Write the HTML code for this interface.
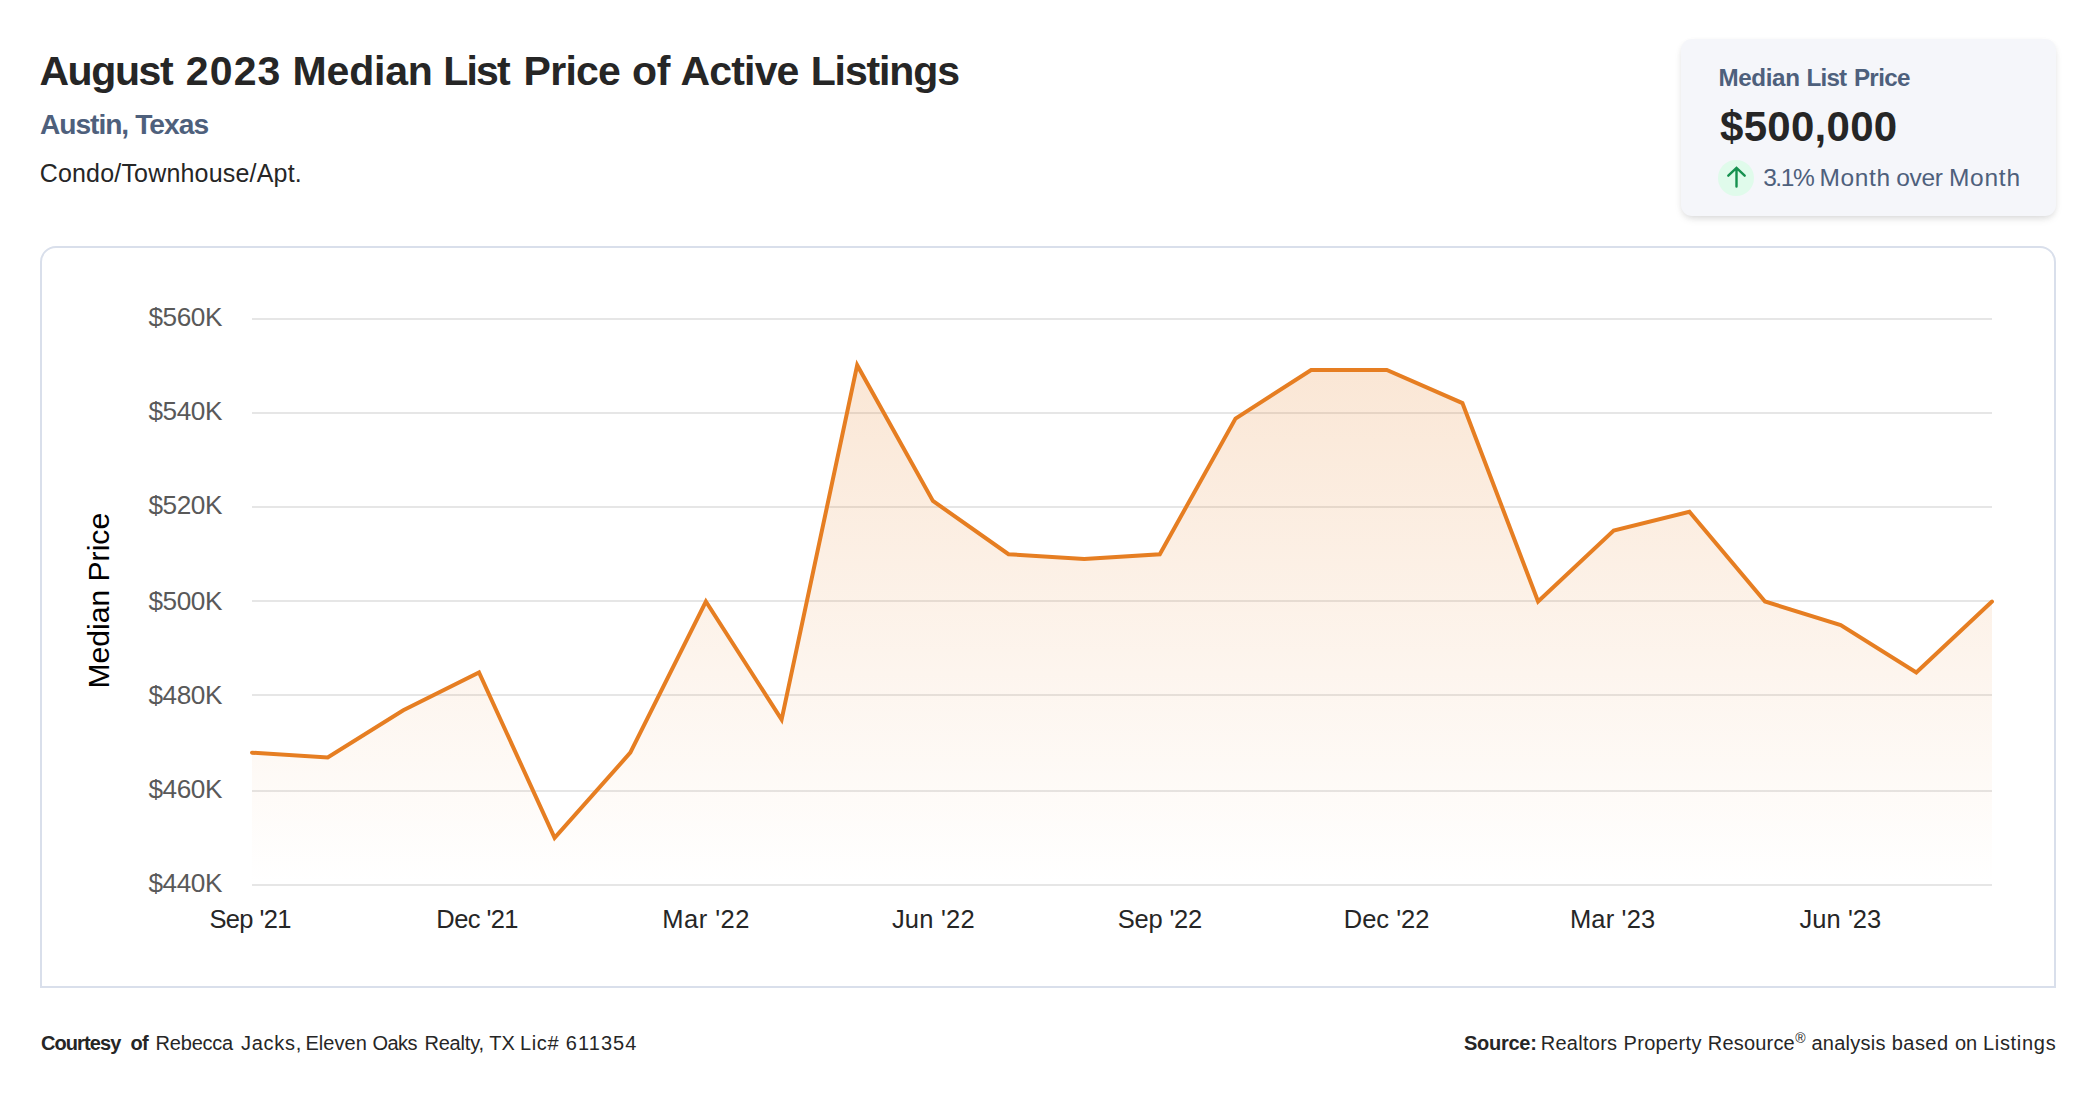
<!DOCTYPE html>
<html lang="en"><head><meta charset="utf-8"><title>August 2023 Median List Price of Active Listings</title>
<style>
*{margin:0;padding:0;box-sizing:border-box}
html,body{width:2096px;height:1100px;background:#fff;overflow:hidden}
body{position:relative;font-family:"Liberation Sans",sans-serif;color:#262626}
.ln{position:absolute;left:0;width:2096px;height:1em;line-height:1;white-space:nowrap}
.ln span,.ln sup{position:absolute;top:0;line-height:1;white-space:nowrap}
h1{color:#262626}
.sub,.cl,.cm{color:#4e607c}
.card{position:absolute;left:1681px;top:39px;width:375px;height:177px;background:#f5f6fa;border-radius:11px;box-shadow:0 4px 8px -2px rgba(0,0,0,.13), 0 2px 6px -1px rgba(0,0,0,.06)}
.dot{position:absolute;left:37px;top:121px;width:36px;height:36px;border-radius:50%;background:#e0fbeb}
.dot svg{position:absolute;left:0;top:0}
.chart{position:absolute;left:40px;top:246px;width:2016px;height:742px;border:2px solid #d9dfeb;border-radius:16px 16px 0 0;background:#fff}
svg.plot{position:absolute;left:-42px;top:-248px}
.yl{font-size:26.2px;fill:#595959}
.xl{font-size:25.5px;fill:#262626}
.yt{font-size:30.1px;fill:#000}
</style></head>
<body>
<header>
<h1 class="ln" style="left:0;top:50.59px;font-size:41px;font-weight:700"><span style="left:39.4px;letter-spacing:-1.389px">August</span> <span style="left:185.8px;letter-spacing:1.131px">2023</span> <span style="left:292.6px;letter-spacing:-0.199px">Median</span> <span style="left:443.2px;letter-spacing:-1.813px">List</span> <span style="left:523.6px;letter-spacing:-0.749px">Price</span> <span style="left:631.9px;letter-spacing:-0.244px">of</span> <span style="left:680.5px;letter-spacing:-0.832px">Active</span> <span style="left:810.7px;letter-spacing:-1.124px">Listings</span></h1>
<div class="ln sub" style="left:0;top:110.13px;font-size:28.2px;font-weight:700"><span style="left:40px;letter-spacing:-1.064px">Austin,</span> <span style="left:135.2px;letter-spacing:-0.939px">Texas</span></div>
<div class="ln typ" style="left:0;top:161.04px;font-size:25px;font-weight:400"><span style="left:39.7px;letter-spacing:0.186px">Condo/Townhouse/Apt.</span></div>
</header>
<section class="card">
<div class="ln cl" style="left:0;top:26.51px;font-size:24.2px;font-weight:700"><span style="left:37.4px;letter-spacing:-0.349px">Median</span> <span style="left:125.6px;letter-spacing:-0.849px">List</span> <span style="left:172.9px;letter-spacing:-0.654px">Price</span></div>
<div class="ln cv" style="left:0;top:67.45px;font-size:42px;font-weight:700"><span style="left:39px;letter-spacing:0.283px">$500,000</span></div>
<div class="dot"><svg width="36" height="36" viewBox="0 0 36 36"><path d="M18.5 26.6V8.6M10.3 15.7L18.5 8l8.2 7.7" fill="none" stroke="#16914f" stroke-width="2.4" stroke-linecap="round" stroke-linejoin="miter"/></svg></div>
<div class="ln cm" style="left:0;top:126.66px;font-size:24.5px;font-weight:400"><span style="left:82.2px;letter-spacing:-1.453px">3.1%</span> <span style="left:138.5px;letter-spacing:0.633px">Month</span> <span style="left:215.3px;letter-spacing:-0.367px">over</span> <span style="left:267.9px;letter-spacing:0.758px">Month</span></div>
</section>
<main class="chart">
<svg class="plot" width="2096" height="1100" viewBox="0 0 2096 1100" font-family="Liberation Sans, sans-serif">
<defs><linearGradient id="g" gradientUnits="userSpaceOnUse" x1="0" y1="365" x2="0" y2="885"><stop offset="0" stop-color="#e67e22" stop-opacity="0.19"/><stop offset="1" stop-color="#e67e22" stop-opacity="0.0"/></linearGradient></defs>
<rect x="252" y="318" width="1740" height="2" fill="#e6e6e6"/><rect x="252" y="412" width="1740" height="2" fill="#e6e6e6"/><rect x="252" y="506" width="1740" height="2" fill="#e6e6e6"/><rect x="252" y="600" width="1740" height="2" fill="#e6e6e6"/><rect x="252" y="694" width="1740" height="2" fill="#e6e6e6"/><rect x="252" y="790" width="1740" height="2" fill="#e6e6e6"/><rect x="252" y="884" width="1740" height="2" fill="#e6e6e6"/>
<path d="M252.0,885 L252.0,752.7 L327.7,757.4 L403.3,710.2 L479.0,672.4 L554.6,837.8 L630.3,752.7 L705.9,601.5 L781.6,719.6 L857.2,365.2 L932.9,500.9 L1008.5,554.2 L1084.2,559.0 L1159.8,554.2 L1235.5,418.6 L1311.1,370.0 L1386.8,370.0 L1462.4,403.1 L1538.1,601.5 L1613.7,530.6 L1689.4,511.7 L1765.0,601.5 L1840.7,625.1 L1916.3,672.4 L1992.0,601.5 L1992.0,885 Z" fill="url(#g)"/>
<polyline points="252.0,752.7 327.7,757.4 403.3,710.2 479.0,672.4 554.6,837.8 630.3,752.7 705.9,601.5 781.6,719.6 857.2,365.2 932.9,500.9 1008.5,554.2 1084.2,559.0 1159.8,554.2 1235.5,418.6 1311.1,370.0 1386.8,370.0 1462.4,403.1 1538.1,601.5 1613.7,530.6 1689.4,511.7 1765.0,601.5 1840.7,625.1 1916.3,672.4 1992.0,601.5" fill="none" stroke="#e67e22" stroke-width="4" stroke-linejoin="miter" stroke-linecap="round"/>
<text x="148.4" y="326" letter-spacing="-0.414" class="yl">$560K</text><text x="148.4" y="420" letter-spacing="-0.414" class="yl">$540K</text><text x="148.4" y="514" letter-spacing="-0.414" class="yl">$520K</text><text x="148.4" y="610" letter-spacing="-0.414" class="yl">$500K</text><text x="148.4" y="704" letter-spacing="-0.414" class="yl">$480K</text><text x="148.4" y="798" letter-spacing="-0.414" class="yl">$460K</text><text x="148.4" y="892" letter-spacing="-0.414" class="yl">$440K</text>
<text x="209.4" y="927.6" letter-spacing="-0.618" class="xl">Sep '21</text><text x="436.3" y="927.6" letter-spacing="-0.58" class="xl">Dec '21</text><text x="662.3" y="927.6" letter-spacing="0.475" class="xl">Mar '22</text><text x="891.9" y="927.6" letter-spacing="0.225" class="xl">Jun '22</text><text x="1117.7" y="927.6" letter-spacing="-0.185" class="xl">Sep '22</text><text x="1343.8" y="927.6" letter-spacing="-0.014" class="xl">Dec '22</text><text x="1569.9" y="927.6" letter-spacing="0.175" class="xl">Mar '23</text><text x="1799.5" y="927.6" letter-spacing="0.059" class="xl">Jun '23</text>
<text transform="translate(109,600.7) rotate(-90)" text-anchor="middle" class="yt">Median Price</text>
</svg>
</main>
<footer>
<div class="ln fl" style="left:0;top:1033.47px;font-size:20px;font-weight:400"><span style="left:40.9px;letter-spacing:-0.881px;font-weight:700">Courtesy</span> <span style="left:130.6px;letter-spacing:-0.917px;font-weight:700">of</span> <span style="left:155.6px;letter-spacing:-0.219px">Rebecca</span> <span style="left:240.9px;letter-spacing:0.735px">Jacks,</span> <span style="left:305.5px;letter-spacing:0.034px">Eleven</span> <span style="left:372.5px;letter-spacing:-0.56px">Oaks</span> <span style="left:424.4px;letter-spacing:-0.184px">Realty,</span> <span style="left:489.3px;letter-spacing:-0.017px">TX</span> <span style="left:520px;letter-spacing:0.611px">Lic#</span> <span style="left:565.8px;letter-spacing:1.074px">611354</span></div>
<div class="ln fr" style="left:0;top:1033.47px;font-size:20px;font-weight:400"><span style="left:1463.9px;letter-spacing:-0.25px;font-weight:700">Source:</span> <span style="left:1540.7px;letter-spacing:0.275px">Realtors</span> <span style="left:1623.5px;letter-spacing:0.331px">Property</span> <span style="left:1707.8px;letter-spacing:0.19px">Resource</span><sup style="left:1795.3px;top:-2.6px;font-size:14px">®</sup> <span style="left:1811.4px;letter-spacing:0.249px">analysis</span> <span style="left:1891.8px;letter-spacing:0.433px">based</span> <span style="left:1954.9px;letter-spacing:-0.123px">on</span> <span style="left:1982.9px;letter-spacing:0.712px">Listings</span></div>
</footer>
</body></html>
